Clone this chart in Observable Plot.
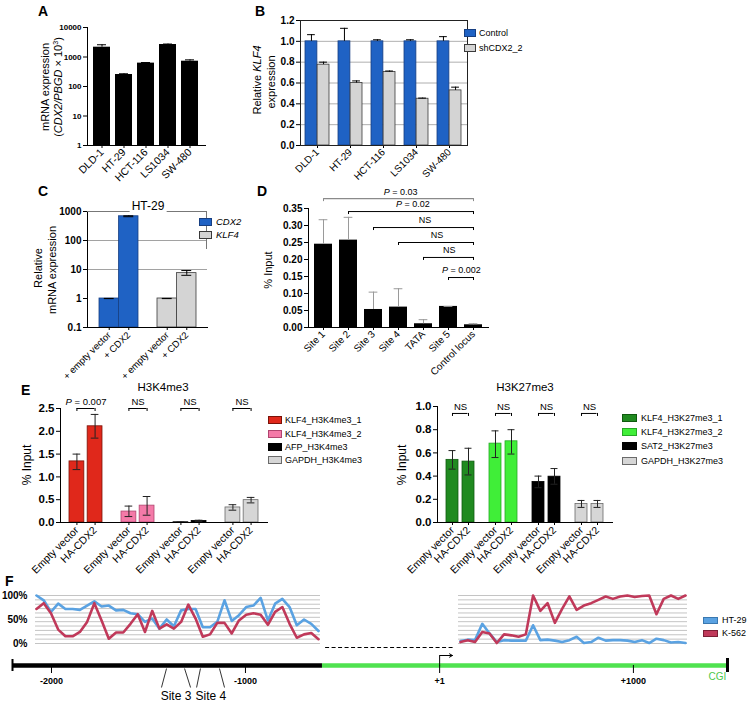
<!DOCTYPE html>
<html><head><meta charset="utf-8">
<script src="https://cdn.jsdelivr.net/npm/d3@7"></script>
<script src="https://cdn.jsdelivr.net/npm/@observablehq/plot@0.6"></script>
<style>
body{margin:0;background:#fff;font-family:"Liberation Sans",Arial,sans-serif;}
#fig{position:relative;width:755px;height:705px;overflow:hidden;background:#fff;}
.lbl{position:absolute;white-space:nowrap;color:#000;line-height:1;}
.sw{position:absolute;box-sizing:border-box;}
[aria-label="y-axis tick label"]{font-weight:bold;}
</style></head><body><div id="fig"></div>
<script>
// ================= DATA =================
const aLines = ["DLD-1", "HT-29", "HCT-116", "LS1034", "SW-480"];
const aValues = [2150, 255, 620, 2650, 720];
const aErr = [2600, 270, 650, 2750, 800];
const aTicks = [1, 10, 100, 1000, 10000];

const bSeries = ["Control", "shCDX2_2"];
const bControl = [1.0, 1.0, 1.0, 1.0, 1.0];
const bControlErr = [1.064, 1.125, 1.015, 1.015, 1.045];
const bSh = [0.776, 0.60, 0.705, 0.449, 0.529];
const bShErr = [0.80, 0.62, 0.715, 0.455, 0.56];
const bTicks = [0, 0.2, 0.4, 0.6, 0.8, 1.0, 1.2];

const cTitle = "HT-29";
const cGroups = ["CDX2", "KLF4"];
const cBarLabels = ["+ empty vector", "+ CDX2"];
const cEmpty = [1, 1];
const cCdx2 = [685, 7.5];
const cCdx2Lo = [660, 6.3];
const cCdx2Hi = [710, 9.2];
const cTicks = [0.1, 1, 10, 100, 1000];

const dSites = ["Site 1", "Site 2", "Site 3", "Site 4", "TATA", "Site 5", "Control locus"];
const dValues = [0.245, 0.257, 0.053, 0.060, 0.011, 0.062, 0.008];
const dErr = [0.317, 0.324, 0.104, 0.114, 0.023, 0.062, 0.011];
const dTicks = [0, 0.05, 0.10, 0.15, 0.20, 0.25, 0.30, 0.35];
const dBrFrom = ["Site 1", "Site 2", "Site 3", "Site 4", "TATA", "Site 5"];
const dBrLevel = [0.379, 0.341, 0.294, 0.250, 0.206, 0.147];
const dBrLabel = ["P = 0.03", "P = 0.02", "NS", "NS", "NS", "P = 0.002"];

const eBarLabels = ["Empty vector", "HA-CDX2"];
const eLeftTitle = "H3K4me3";
const eLeftGroups = ["KLF4_H3K4me3_1", "KLF4_H3K4me3_2", "AFP_H3K4me3", "GAPDH_H3K4me3"];
const eLeftEmpty = [1.34, 0.24, 0.005, 0.33];
const eLeftEmptyLo = [1.16, 0.13, 0.0, 0.27];
const eLeftEmptyHi = [1.50, 0.36, 0.01, 0.39];
const eLeftHa = [2.11, 0.37, 0.035, 0.49];
const eLeftHaLo = [1.85, 0.16, 0.02, 0.43];
const eLeftHaHi = [2.37, 0.57, 0.05, 0.55];
const eLeftP = ["P = 0.007", "NS", "NS", "NS"];
const eLeftTicks = [0, 0.5, 1.0, 1.5, 2.0, 2.5];

const eRightTitle = "H3K27me3";
const eRightGroups = ["KLF4_H3K27me3_1", "KLF4_H3K27me3_2", "SAT2_H3K27me3", "GAPDH_H3K27me3"];
const eRightEmpty = [0.54, 0.68, 0.35, 0.16];
const eRightEmptyLo = [0.46, 0.56, 0.30, 0.13];
const eRightEmptyHi = [0.62, 0.79, 0.40, 0.19];
const eRightHa = [0.525, 0.70, 0.395, 0.16];
const eRightHaLo = [0.41, 0.59, 0.33, 0.13];
const eRightHaHi = [0.64, 0.80, 0.465, 0.19];
const eRightP = ["NS", "NS", "NS", "NS"];
const eRightTicks = [0, 0.2, 0.4, 0.6, 0.8, 1.0];

const fSeries = ["HT-29", "K-562"];
const fLeftHT29 = [100, 90, 66, 83, 72, 72, 70, 79, 88, 77, 79, 69, 70, 63, 61, 45, 52, 31, 50, 36, 69, 72, 72, 34, 34, 45, 90, 47, 59, 76, 79, 95, 48, 83, 93, 76, 38, 50, 41, 26];
const fLeftK562 = [72, 84, 63, 29, 15, 15, 24, 45, 84, 48, 10, 23, 23, 41, 61, 24, 68, 31, 40, 31, 45, 81, 52, 14, 19, 43, 43, 21, 48, 60, 63, 60, 39, 66, 76, 41, 12, 19, 22, 9];
const fRightHT29 = [5, 8, 7, 41, 21, 3, 7, 6, 6, 6, 38, 7, 8, 6, 3, 7, 14, 1, 3, 12, 6, 7, 7, 6, 3, 7, 1, 10, 7, 2, 3, 1];
const fRightK562 = [3, 7, 3, 24, 21, 1, 19, 17, 14, 19, 100, 68, 84, 43, 72, 98, 70, 79, 84, 91, 98, 93, 98, 100, 97, 99, 100, 61, 93, 100, 93, 100];
const fYTicks = [0, 50, 100];
const fGenomeStart = -2201, fCgiStart = -603, fGenomeEnd = 1485;
const fTicks = [-2000, -1000, 1, 1000];
const fTickLabels = ["-2000", "-1000", "+1", "+1000"];
const fSiteNames = ["Site 3", "Site 4"];
const fSiteCenter = [-1358, -1178];
const fSiteTop = [-1407, -1314, -1232, -1134];
const fSiteBottom = [-1433, -1283, -1252, -1108];
const fDash = [-587, 72];
const fTss = 1, fArrowEnd = 67;
const fCgiLabel = "CGI", fCgiLabelPos = 1433;

// ================= STYLE =================
const FONT = '"Liberation Sans", Arial, sans-serif';
const BLUE = "#1f62c4", BLUE_D = "#173f82", GRAY = "#d4d4d4", GRAY_D = "#3a3a3a";
const eLeftFill = ["#e0281b", "#f47aa8", "#000000", "#d6d6d6"];
const eLeftStroke = ["#7a1208", "#b0456f", "#000000", "#6a6a6a"];
const eRightFill = ["#208a20", "#40ee38", "#000000", "#d6d6d6"];
const eRightStroke = ["#0f5a0f", "#26a826", "#000000", "#6a6a6a"];
const HT_BLUE = "#5aa2e2", K_RED = "#c0395a", GREEN = "#4fe24f";

const fig = document.getElementById("fig");

function italicP(el) {
  el.querySelectorAll("text").forEach(t => {
    const s = t.textContent;
    if (s.startsWith("P = ")) {
      t.textContent = "";
      const a = document.createElementNS("http://www.w3.org/2000/svg", "tspan");
      a.setAttribute("font-style", "italic");
      a.textContent = "P";
      t.append(a, s.slice(1));
    }
  });
}
function panel(box, opts, fontSize = 10) {
  const {x0, x1, y0, y1, ml = 40, mr = 10, mt = 10, mb = 60} = box;
  const el = Plot.plot({
    width: x1 - x0 + ml + mr, height: y1 - y0 + mt + mb,
    marginLeft: ml, marginRight: mr, marginTop: mt, marginBottom: mb,
    style: {fontFamily: FONT, fontSize: fontSize + "px", background: "transparent", overflow: "visible", color: "#000"},
    ...opts
  });
  el.style.position = "absolute";
  el.style.left = (x0 - ml) + "px";
  el.style.top = (y0 - mt) + "px";
  el.style.maxWidth = "none";
  fig.append(el);
  italicP(el);
  return el;
}
function geom(W, n, pi, po) { const step = W / (n - pi + 2 * po); return {step, bw: step * (1 - pi), pi, po}; }
function addText(html, x, y, o = {}) {
  const d = document.createElement("div");
  d.className = "lbl";
  d.innerHTML = html;
  d.style.left = x + "px"; d.style.top = y + "px";
  d.style.fontSize = (o.size || 10) + "px";
  if (o.weight) d.style.fontWeight = o.weight;
  if (o.italic) d.style.fontStyle = "italic";
  if (o.color) d.style.color = o.color;
  if (o.bg) { d.style.background = o.bg; d.style.padding = "0 2px"; }
  const tx = o.anchor === "middle" ? "-50%" : o.anchor === "end" ? "-100%" : "0";
  d.style.transform = o.rotate ? "translate(-50%,-50%) rotate(-90deg)" : `translate(${tx},-50%)`;
  fig.append(d);
  return d;
}
function swatch(x, yc, w, h, fill, stroke) {
  const d = document.createElement("div");
  d.className = "sw";
  Object.assign(d.style, {left: x + "px", top: (yc - h / 2) + "px", width: w + "px", height: h + "px", background: fill, border: `1px solid ${stroke}`});
  fig.append(d);
}

// ================= PANEL A =================
{
  const box = {x0: 87, x1: 205, y0: 27, y1: 145, ml: 40, mr: 10, mt: 10, mb: 60};
  const rows = aLines.map((name, i) => ({name, v: aValues[i], e: aErr[i]}));
  panel(box, {
    x: {type: "band", domain: aLines, paddingInner: 0.22, paddingOuter: 0.22},
    y: {type: "log", domain: [1, 10000]},
    marks: [
      Plot.barY(rows, {x: "name", y1: 1, y2: "v", fill: "#000"}),
      Plot.ruleX(rows, {x: "name", y1: "v", y2: "e", stroke: "#000"}),
      Plot.tickY(rows, {x: "name", y: "e", insetLeft: 4, insetRight: 4, stroke: "#000"}),
      Plot.axisY({ticks: aTicks, tickFormat: d => String(d), tickSize: 4, tickPadding: 2, label: null}),
      Plot.axisX({tickRotate: -45, tickSize: 3, tickPadding: 2, label: null, fontSize: 10.5}),
      Plot.frame({anchor: "left"}), Plot.frame({anchor: "bottom"})
    ]
  }, 8);
  addText("mRNA expression", 45, 87, {size: 11, rotate: true});
  addText("(<i>CDX2/PBGD</i> × 10<sup style='font-size:7px'>3</sup>)", 58, 87, {size: 11, rotate: true});
  addText("A", 38, 11, {size: 14, weight: "bold"});
}

// ================= PANEL B =================
{
  const box = {x0: 300, x1: 467, y0: 20, y1: 145, ml: 40, mr: 10, mt: 10, mb: 60};
  const g = geom(box.x1 - box.x0, aLines.length, 0.27, 0.15);
  const rows = aLines.map((name, i) => ({name, c: bControl[i], cE: bControlErr[i], s: bSh[i], sE: bShErr[i]}));
  const cap = 8;
  panel(box, {
    x: {type: "band", domain: aLines, paddingInner: g.pi, paddingOuter: g.po},
    y: {domain: [0, 1.2]},
    marks: [
      Plot.ruleY(bTicks.slice(1, -1), {stroke: "#9a9a9a", strokeWidth: 0.8}),
      Plot.barY(rows, {x: "name", y: "c", fill: BLUE, stroke: BLUE_D, strokeWidth: 0.8, insetRight: g.bw / 2}),
      Plot.barY(rows, {x: "name", y: "s", fill: GRAY, stroke: GRAY_D, strokeWidth: 0.8, insetLeft: g.bw / 2}),
      Plot.ruleX(rows, {x: "name", y1: "c", y2: "cE", dx: -g.bw / 4}),
      Plot.ruleX(rows, {x: "name", y1: "s", y2: "sE", dx: g.bw / 4}),
      Plot.tickY(rows, {x: "name", y: "cE", insetLeft: g.bw / 4 - cap / 2, insetRight: 3 * g.bw / 4 - cap / 2}),
      Plot.tickY(rows, {x: "name", y: "sE", insetLeft: 3 * g.bw / 4 - cap / 2, insetRight: g.bw / 4 - cap / 2}),
      Plot.axisY({ticks: bTicks, tickFormat: d3.format(".1f"), tickSize: 4, tickPadding: 2, label: null}),
      Plot.axisX({tickRotate: -45, tickSize: 3, tickPadding: 2, label: null, fontSize: 10}),
      Plot.frame({stroke: "#222"})
    ]
  }, 10);
  addText("Relative <i>KLF4</i>", 257, 80, {size: 11, rotate: true});
  addText("expression", 271, 82, {size: 11, rotate: true});
  addText("B", 255, 11, {size: 14, weight: "bold"});
  swatch(464, 33, 12, 8, BLUE, BLUE_D);
  swatch(464, 48, 12, 8, GRAY, GRAY_D);
  addText(bSeries[0], 479, 33, {size: 9});
  addText(bSeries[1], 479, 48, {size: 9});
}

// ================= PANEL C =================
{
  const box = {x0: 87, x1: 207, y0: 211, y1: 327, ml: 40, mr: 10, mt: 10, mb: 70};
  const g = geom(box.x1 - box.x0, cGroups.length, 0.333, 0.19);
  const rows = cGroups.map((grp, i) => ({grp, e: cEmpty[i], v: cCdx2[i], lo: cCdx2Lo[i], hi: cCdx2Hi[i]}));
  const fillOf = d => d.grp === cGroups[0] ? BLUE : GRAY;
  const strokeOf = d => d.grp === cGroups[0] ? BLUE_D : GRAY_D;
  const cap = 10, off = g.bw / 4;
  const perDec = 1 / ((box.y1 - box.y0) / 4);
  panel(box, {
    x: {type: "band", domain: cGroups, paddingInner: g.pi, paddingOuter: g.po, axis: null},
    y: {type: "log", domain: [0.1, 1000]},
    color: {type: "identity"},
    marks: [
      Plot.ruleY([10, 100], {stroke: "#8a8a8a", strokeWidth: 0.8}),
      Plot.barY(rows, {x: "grp", y1: 0.1, y2: "e", fill: fillOf, stroke: strokeOf, strokeWidth: 0.8, insetRight: g.bw / 2}),
      Plot.barY(rows, {x: "grp", y1: 0.1, y2: "v", fill: fillOf, stroke: strokeOf, strokeWidth: 0.8, insetLeft: g.bw / 2}),
      Plot.tickY(rows, {x: "grp", y: "e", insetLeft: g.bw / 2 - off - cap / 2, insetRight: g.bw / 2 + off - cap / 2, strokeWidth: 1.2}),
      Plot.ruleX(rows, {x: "grp", y1: "lo", y2: "hi", dx: off}),
      Plot.tickY(rows, {x: "grp", y: "hi", insetLeft: g.bw / 2 + off - cap / 2, insetRight: g.bw / 2 - off - cap / 2}),
      Plot.tickY(rows, {x: "grp", y: "lo", insetLeft: g.bw / 2 + off - cap / 2, insetRight: g.bw / 2 - off - cap / 2}),
      Plot.ruleX(rows, {x: "grp", y1: 0.1, y2: 0.1 * Math.pow(10, -3 * perDec), dx: -off}),
      Plot.ruleX(rows, {x: "grp", y1: 0.1, y2: 0.1 * Math.pow(10, -3 * perDec), dx: off}),
      Plot.text(rows, {x: "grp", y: 0.1, text: () => cBarLabels[0], dx: -off, dy: 6, rotate: -45, textAnchor: "end", fontSize: 9.5}),
      Plot.text(rows, {x: "grp", y: 0.1, text: () => cBarLabels[1], dx: off, dy: 6, rotate: -45, textAnchor: "end", fontSize: 9.5}),
      Plot.axisY({ticks: cTicks, tickFormat: d => String(d), tickSize: 4, tickPadding: 2, label: null}),
      Plot.frame({anchor: "left"}), Plot.frame({anchor: "bottom"})
    ]
  }, 10);
  const box2 = document.createElement("div");
  Object.assign(box2.style, {position: "absolute", left: "87px", top: "211px", width: "120px", height: "38px", borderTop: "1.5px solid #777", borderRight: "1.5px solid #777", boxSizing: "border-box"});
  fig.append(box2);
  addText(cTitle, 148, 206, {size: 12, anchor: "middle", bg: "#fff"});
  swatch(199, 222, 13, 8, BLUE, BLUE_D);
  swatch(199, 235, 13, 8, GRAY, GRAY_D);
  addText(cGroups[0], 214, 222, {size: 9.5, italic: true, bg: "#fff"});
  addText(cGroups[1], 214, 235, {size: 9.5, italic: true, bg: "#fff"});
  addText("Relative", 38, 268, {size: 11, rotate: true});
  addText("mRNA expression", 52, 270, {size: 11, rotate: true});
  addText("C", 38, 191, {size: 14, weight: "bold"});
}

// ================= PANEL D =================
{
  const box = {x0: 308, x1: 488, y0: 208, y1: 327, ml: 40, mr: 10, mt: 25, mb: 70};
  const g = geom(box.x1 - box.x0, dSites.length, 0.29, 0.145);
  const rows = dSites.map((s, i) => ({s, v: dValues[i], e: dErr[i]}));
  const dTo = dSites[dSites.length - 1];
  const br = dBrFrom.map((f, i) => ({from: f, to: dTo, level: dBrLevel[i], label: dBrLabel[i]}));
  const perPx = 0.35 / (box.y1 - box.y0);
  const cap = 9;
  const ci = dSites.indexOf(dTo);
  panel(box, {
    x: {type: "band", domain: dSites, paddingInner: g.pi, paddingOuter: g.po},
    y: {domain: [0, 0.35]},
    color: {type: "identity"},
    marks: [
      Plot.barY(rows, {x: "s", y: "v", fill: "#000"}),
      Plot.ruleX(rows, {x: "s", y1: "v", y2: "e", stroke: "#9a9a9a"}),
      Plot.tickY(rows, {x: "s", y: "e", insetLeft: (g.bw - cap) / 2, insetRight: (g.bw - cap) / 2, stroke: "#9a9a9a"}),
      Plot.link(br, {x1: "from", x2: "to", y1: "level", y2: "level", stroke: (d, i) => i === 0 ? "#8a8a8a" : "#000", strokeWidth: (d, i) => i === 0 ? 1.4 : 1}),
      Plot.ruleX(br, {x: "from", y1: "level", y2: d => d.level - 3 * perPx, stroke: (d, i) => i === 0 ? "#8a8a8a" : "#000"}),
      Plot.ruleX(br, {x: "to", y1: "level", y2: d => d.level - 3 * perPx, stroke: (d, i) => i === 0 ? "#8a8a8a" : "#000"}),
      ...br.map(b => Plot.text([b], {x: "from", y: "level", text: "label", dy: -7, dx: (ci - dSites.indexOf(b.from)) * g.step / 2, fontSize: 9})),
      Plot.axisY({ticks: dTicks, tickFormat: d3.format(".2f"), tickSize: 4, tickPadding: 2, label: null}),
      Plot.axisX({tickRotate: -45, tickSize: 3, tickPadding: 2, label: null, fontSize: 10}),
      Plot.frame({anchor: "left"}), Plot.frame({anchor: "bottom"})
    ]
  }, 10);
  addText("% Input", 268, 270, {size: 11, rotate: true});
  addText("D", 257, 191, {size: 14, weight: "bold"});
}

// ================= PANEL E =================
function ePanel(box, g, groups, empty, eLo, eHi, ha, hLo, hHi, pLabels, ticks, fills, strokes, level) {
  const rows = groups.map((grp, i) => ({grp, e: empty[i], eLo: eLo[i], eHi: eHi[i], h: ha[i], hLo: hLo[i], hHi: hHi[i], p: pLabels[i]}));
  const fillOf = d => fills[groups.indexOf(d.grp)];
  const strokeOf = d => strokes[groups.indexOf(d.grp)];
  const gap = 1.5, off = g.bw / 4 + gap / 2, cap = 8;
  const top = ticks[ticks.length - 1];
  const perPx = top / (box.y1 - box.y0);
  const L = g.bw / 2 - off, R = g.bw / 2 + off;
  panel(box, {
    x: {type: "band", domain: groups, paddingInner: g.pi, paddingOuter: g.po, axis: null},
    y: {domain: [0, top]},
    color: {type: "identity"},
    marks: [
      Plot.barY(rows, {x: "grp", y: "e", fill: fillOf, stroke: strokeOf, strokeWidth: 0.8, insetRight: g.bw / 2 + gap}),
      Plot.barY(rows, {x: "grp", y: "h", fill: fillOf, stroke: strokeOf, strokeWidth: 0.8, insetLeft: g.bw / 2 + gap}),
      Plot.ruleX(rows, {x: "grp", y1: "eLo", y2: "eHi", dx: -off, stroke: "#222"}),
      Plot.ruleX(rows, {x: "grp", y1: "hLo", y2: "hHi", dx: off, stroke: "#222"}),
      Plot.tickY(rows, {x: "grp", y: "eLo", insetLeft: L - cap / 2, insetRight: R - cap / 2, stroke: "#222"}),
      Plot.tickY(rows, {x: "grp", y: "eHi", insetLeft: L - cap / 2, insetRight: R - cap / 2, stroke: "#222"}),
      Plot.tickY(rows, {x: "grp", y: "hLo", insetLeft: R - cap / 2, insetRight: L - cap / 2, stroke: "#222"}),
      Plot.tickY(rows, {x: "grp", y: "hHi", insetLeft: R - cap / 2, insetRight: L - cap / 2, stroke: "#222"}),
      Plot.tickY(rows, {x: "grp", y: level, insetLeft: L, insetRight: L, stroke: "#000"}),
      Plot.ruleX(rows, {x: "grp", y1: level, y2: level - 3 * perPx, dx: -off}),
      Plot.ruleX(rows, {x: "grp", y1: level, y2: level - 3 * perPx, dx: off}),
      Plot.text(rows, {x: "grp", y: level, text: "p", dy: -7, fontSize: 9.5}),
      Plot.ruleX(rows, {x: "grp", y1: 0, y2: -3 * perPx, dx: -off}),
      Plot.ruleX(rows, {x: "grp", y1: 0, y2: -3 * perPx, dx: off}),
      Plot.text(rows, {x: "grp", y: 0, text: () => eBarLabels[0], dx: -off, dy: 6, rotate: -45, textAnchor: "end", fontSize: 10.5}),
      Plot.text(rows, {x: "grp", y: 0, text: () => eBarLabels[1], dx: off, dy: 6, rotate: -45, textAnchor: "end", fontSize: 10.5}),
      Plot.axisY({ticks, tickFormat: d3.format(".1f"), tickSize: 4, tickPadding: 2, label: null}),
      Plot.frame({anchor: "left"}), Plot.frame({anchor: "bottom"})
    ]
  }, 11.5);
}
{
  const box = {x0: 60, x1: 267, y0: 408, y1: 522, ml: 40, mr: 10, mt: 20, mb: 70};
  ePanel(box, geom(box.x1 - box.x0, 4, 0.363, 0.16), eLeftGroups, eLeftEmpty, eLeftEmptyLo, eLeftEmptyHi, eLeftHa, eLeftHaLo, eLeftHaHi, eLeftP, eLeftTicks, eLeftFill, eLeftStroke, 2.5);
  addText(eLeftTitle, 163, 388, {size: 11.5, anchor: "middle"});
  addText("% Input", 27, 465, {size: 12, rotate: true});
  addText("E", 21, 390, {size: 14, weight: "bold"});
  const ys = [420, 433.5, 447, 460];
  eLeftGroups.forEach((grp, i) => { swatch(268, ys[i], 14, 8, eLeftFill[i], eLeftStroke[i]); addText(grp, 285, ys[i], {size: 9}); });
}
{
  const box = {x0: 437, x1: 612, y0: 406, y1: 522, ml: 40, mr: 10, mt: 20, mb: 70};
  ePanel(box, geom(box.x1 - box.x0, 4, 0.34, 0.16), eRightGroups, eRightEmpty, eRightEmptyLo, eRightEmptyHi, eRightHa, eRightHaLo, eRightHaHi, eRightP, eRightTicks, eRightFill, eRightStroke, 0.94);
  addText(eRightTitle, 525, 388, {size: 11.5, anchor: "middle"});
  addText("% Input", 402, 465, {size: 12, rotate: true});
  const ys = [417.5, 431.5, 446, 461];
  eRightGroups.forEach((grp, i) => { swatch(622, ys[i], 15, 8, eRightFill[i], eRightStroke[i]); addText(grp, 641, ys[i], {size: 9}); });
}

// ================= PANEL F =================
{
  const fGrid = d3.range(0, 100.01, 100 / 11);
  panel({x0: 36, x1: 318, y0: 595, y1: 643, ml: 36, mr: 4, mt: 4, mb: 4}, {
    x: {domain: [0, fLeftHT29.length - 1], axis: null},
    y: {domain: [0, 100]},
    marks: [
      Plot.ruleY(fGrid, {stroke: "#c4c4c4", strokeWidth: 1, insetLeft: -1, insetRight: -2}),
      Plot.axisY({ticks: fYTicks, tickFormat: d => d + "%", tickSize: 0, tickPadding: 9, label: null}),
      Plot.lineY(fLeftHT29, {stroke: HT_BLUE, strokeWidth: 2.6}),
      Plot.lineY(fLeftK562, {stroke: K_RED, strokeWidth: 2.6})
    ]
  }, 10);
  panel({x0: 460, x1: 685, y0: 595, y1: 643, ml: 4, mr: 4, mt: 4, mb: 4}, {
    x: {domain: [0, fRightHT29.length - 1], axis: null},
    y: {domain: [0, 100], axis: null},
    marks: [
      Plot.ruleY(fGrid, {stroke: "#c4c4c4", strokeWidth: 1, insetLeft: -2, insetRight: -2}),
      Plot.lineY(fRightHT29, {stroke: HT_BLUE, strokeWidth: 2.6}),
      Plot.lineY(fRightK562, {stroke: K_RED, strokeWidth: 2.6})
    ]
  }, 10);
  panel({x0: 12, x1: 727, y0: 645, y1: 705, ml: 12, mr: 28, mt: 4, mb: 0}, {
    x: {domain: [fGenomeStart, fGenomeEnd], axis: null},
    y: {domain: [-2, 1], axis: null},
    marks: [
      Plot.ruleY([0.9], {x1: fDash[0], x2: fDash[1], strokeDasharray: "4,2.5", strokeWidth: 1}),
      Plot.ruleY([0], {x1: fGenomeStart, x2: fCgiStart, stroke: "#000", strokeWidth: 4.5}),
      Plot.ruleY([0], {x1: fCgiStart, x2: fGenomeEnd, stroke: GREEN, strokeWidth: 4.5}),
      Plot.ruleX([fGenomeStart], {y1: -0.3, y2: 0.3, strokeWidth: 2}),
      Plot.ruleX([fGenomeEnd], {y1: -0.35, y2: 0.35, strokeWidth: 3}),
      Plot.ruleX(fTicks, {y1: 0, y2: -0.4, strokeWidth: 1}),
      Plot.text(fTicks, {x: d => d, y: -0.8, text: (d, i) => fTickLabels[i], fontWeight: "bold", fontSize: 9}),
      Plot.link([fTss], {x1: d => d, x2: d => d, y1: 0, y2: 0.5, strokeWidth: 1}),
      Plot.arrow([fTss], {x1: d => d, x2: fArrowEnd, y1: 0.5, y2: 0.5, headLength: 5, bend: 0, strokeWidth: 1}),
      Plot.link(fSiteTop, {x1: d => d, x2: (d, i) => fSiteBottom[i], y1: -0.15, y2: -1.1, strokeWidth: 0.8}),
      Plot.text(fSiteNames, {x: (d, i) => fSiteCenter[i], y: -1.55, text: d => d, fontSize: 12}),
      Plot.text([fCgiLabel], {x: fCgiLabelPos, y: -0.55, text: d => d, fill: "#4cc84c", fontSize: 10})
    ]
  }, 10);
  swatch(703, 620, 15, 7, HT_BLUE, "#3a78b0");
  swatch(703, 633, 15, 7, K_RED, "#7a1f35");
  addText(fSeries[0], 722, 620, {size: 9});
  addText(fSeries[1], 722, 633, {size: 9});
  addText("F", 5, 581, {size: 14, weight: "bold"});
}
</script></body></html>
